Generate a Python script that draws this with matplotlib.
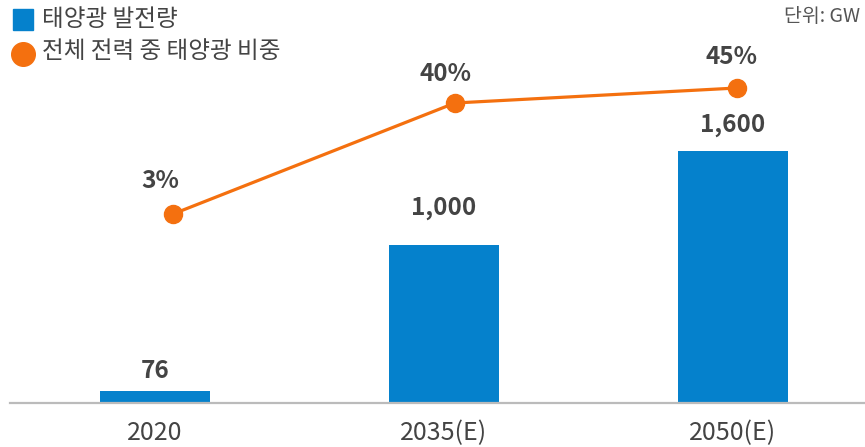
import numpy as np
import matplotlib.pyplot as plt

plt.rcParams['font.family'] = ['Noto Sans CJK KR', 'DejaVu Sans']

# 데이터
years = ['2020', '2035(E)', '2050(E)']
gw = [76, 1000, 1600]
share = [3, 40, 45]
gw_labels = ['76', '1,000', '1,600']
share_labels = ['3%', '40%', '45%']

blue = '#0581cc'
orange = '#f4700f'
txt = '#444444'

fig = plt.figure(figsize=(8.65, 4.47), dpi=100)
ax = fig.add_axes([10 / 865, 44 / 447, 855 / 865, 373 / 447])

x = np.arange(len(years))
ax.bar(x, gw, width=0.38, color=blue, zorder=2)
ax.set_xlim(-0.502, 2.457)
ax.set_ylim(0, 2368)

# 막대 값 라벨
pads = [20, 37, 26]
for xi, v, lab, p in zip(x, gw, gw_labels, pads):
    ax.annotate(lab, (xi, v), xytext=(0, p * 0.72), textcoords='offset points',
                ha='center', va='center', fontsize=17.5, fontweight='bold', color=txt)

ax.set_xticks(x)
ax.set_xticklabels(years, fontsize=18, color=txt)
ax.tick_params(axis='x', length=0, pad=12)
ax.set_yticks([])
for s in ['top', 'right', 'left']:
    ax.spines[s].set_visible(False)
ax.spines['bottom'].set_color('#bbbbbb')
ax.spines['bottom'].set_linewidth(1.6)

# 비중 선 (별도 축)
ax2 = fig.add_axes(ax.get_position(), frameon=False)
ax2.plot(x, share, color=orange, lw=2.3, marker='o', markersize=13, zorder=3)
ax2.set_xlim(-0.578, 2.454)
ax2.set_ylim(-60, 64.33)
ax2.axis('off')
offs = [(-9, 24), (-7, 21), (-4, 22)]
for xi, v, lab, o in zip(x, share, share_labels, offs):
    ax2.annotate(lab, (xi, v), xytext=o, textcoords='offset points',
                 ha='center', va='center', fontsize=17.5, fontweight='bold', color=txt)

# 범례
fig.patches.append(plt.Rectangle((13 / 865, 1 - 30 / 447), 20 / 865, 21 / 447,
                                 transform=fig.transFigure, color=blue))
fig.text(42 / 865, 1 - 20 / 447, '태양광 발전량', fontsize=17, color=txt,
         va='center', ha='left', fontweight='medium')
fig.add_artist(plt.Line2D([23 / 865], [1 - 54 / 447], marker='o', markersize=17,
                          color=orange, transform=fig.transFigure))
fig.text(42 / 865, 1 - 51 / 447, '전체 전력 중 태양광 비중', fontsize=17, color=txt,
         va='center', ha='left', fontweight='medium')

fig.text(860 / 865, 1 - 16 / 447, '단위: GW', fontsize=14, color='#555555',
         va='center', ha='right', fontweight='light')

fig.savefig('out.png', dpi=100)
